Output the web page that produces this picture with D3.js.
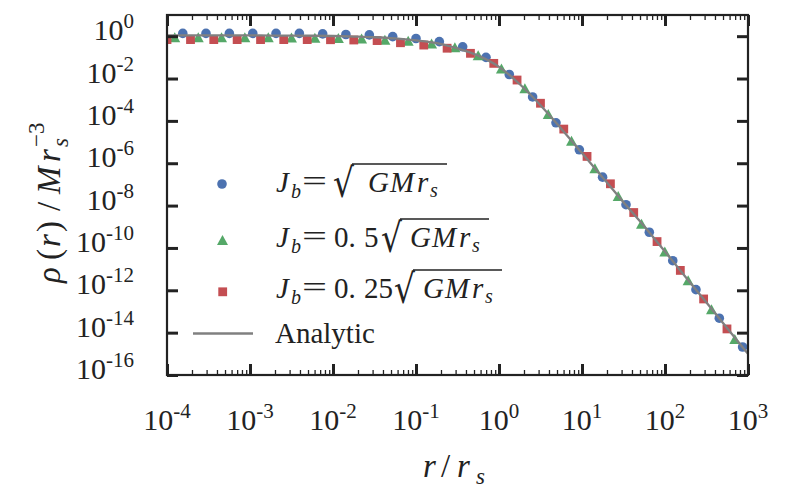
<!DOCTYPE html>
<html lang="en">
<head>
<meta charset="UTF-8">
<title>Density profile</title>
</head>
<body style="margin:0; background:#fff">
<svg id="chart" width="789" height="502"></svg>
<script src="https://cdnjs.cloudflare.com/ajax/libs/d3/7.8.5/d3.min.js"></script>
<script>
// tick exponents
var xTickExps = [-4, -3, -2, -1, 0, 1, 2, 3];
var yTickExps = [0, -2, -4, -6, -8, -10, -12, -14, -16];

// J_b = sqrt(GMr_s)  (circles)
var circleR = [1.55e-4, 2.95e-4, 5.64e-4, 1.08e-3, 2.06e-3, 3.93e-3, 7.51e-3, 1.43e-2, 2.74e-2, 5.24e-2,
               0.100, 0.191, 0.365, 0.697, 1.33, 2.54, 4.86, 9.29, 17.7, 33.9, 64.7, 124, 236, 451, 861];
var circleRho = [1.35, 1.35, 1.35, 1.35, 1.35, 1.35, 1.28, 1.2, 1.15, 0.955,
                 0.776, 0.55, 0.316, 0.1, 1.55e-2, 1.35e-3, 8.1e-5, 4.3e-6, 2.2e-7, 1.1e-8,
                 5.5e-10, 2.5e-11, 1.07e-12, 4.8e-14, 2.1e-15];

// J_b = 0.5 sqrt(GMr_s)  (triangles)
var triR = [1.24e-4, 2.38e-4, 4.54e-4, 8.67e-4, 1.66e-3, 3.16e-3, 6.05e-3, 1.16e-2, 2.21e-2, 4.22e-2,
            8.05e-2, 0.154, 0.294, 0.561, 1.07, 2.05, 3.92, 7.48, 14.3, 27.3, 52.1, 99.5, 190, 363, 693];
var triRho = [0.89, 0.89, 0.89, 0.89, 0.89, 0.87, 0.85, 0.83, 0.78, 0.68,
              0.60, 0.447, 0.30, 0.126, 3.0e-2, 3.5e-3, 2.1e-4, 1.15e-5, 5.8e-7, 2.8e-8,
              1.4e-9, 6.8e-11, 3.0e-12, 1.26e-13, 5.0e-15];

// J_b = 0.25 sqrt(GMr_s)  (squares)
var sqR = [1.0e-4, 1.92e-4, 3.66e-4, 7.0e-4, 1.34e-3, 2.55e-3, 4.89e-3, 9.33e-3, 1.78e-2, 3.4e-2,
           6.5e-2, 0.124, 0.237, 0.453, 0.865, 1.65, 3.16, 6.03, 11.5, 22.0, 42.0, 80.2, 153, 292, 558];
var sqRho = [0.69, 0.69, 0.69, 0.69, 0.69, 0.69, 0.69, 0.68, 0.66, 0.62,
             0.49, 0.38, 0.27, 0.155, 5.2e-2, 8.5e-3, 6.8e-4, 4.1e-5, 2.1e-6, 1.07e-7,
             4.7e-9, 2.0e-10, 8.7e-12, 3.9e-13, 1.5e-14];

// analytic curve
var anaR = [1e-4, 1.78e-4, 3.16e-4, 5.62e-4, 1e-3, 1.78e-3, 3.16e-3, 5.62e-3, 1e-2, 1.78e-2,
            3.16e-2, 5.62e-2, 0.1, 0.178, 0.316, 0.562, 1, 1.78, 3.16, 5.62,
            10, 17.8, 31.6, 56.2, 100, 178, 316, 562, 1000];
var anaRho = [1.1, 1.1, 1.1, 1.1, 1.1, 1.07, 1.07, 1.05, 1.02, 0.96,
              0.89, 0.78, 0.63, 0.468, 0.263, 0.120, 3.55e-2, 5.37e-3, 5.5e-4, 4.27e-5,
              3.02e-6, 2.09e-7, 1.45e-8, 1.07e-9, 6.76e-11, 4.17e-12, 2.63e-13, 1.62e-14, 1.0e-15];

var blue = "#4C72B0", green = "#55A868", red = "#C44E52", gray = "#808080", ink = "#222";

var mLeft = 167, mRight = 748, mTop = 15, mBottom = 375;

var svg = d3.select("#chart");

var xScale = d3.scaleLog().domain([1e-4, 1e3]).range([mLeft, mRight]);
var yScale = d3.scaleLog().domain([1e-16, 1e1]).range([mBottom, mTop]);

// text helper
function txt(parent, size, fam) {
  var f = fam || "Liberation Serif";
  return parent.append("text")
    .attr("font-family", f)
    .style("font-family", "'" + f + "'")
    .style("font-size", size + "px")
    .attr("fill", ink);
}
function sub(t, str, size, italic) {
  var s = t.append("tspan").attr("font-family", "Liberation Serif")
    .style("font-family", "'Liberation Serif'").text(str);
  if (size) s.style("font-size", size + "px");
  if (italic) s.style("font-style", "italic");
  return s;
}

svg.append("defs").append("clipPath").attr("id", "plotclip")
  .append("rect")
  .attr("x", mLeft).attr("y", mTop)
  .attr("width", mRight - mLeft).attr("height", mBottom - mTop);

var plot = svg.append("g").attr("clip-path", "url(#plotclip)");

function zip(xs, ys) {
  return xs.map(function(x, i) { return { r: x, rho: ys[i] }; });
}

function triPath(cx, cy) {
  var s = 11, hh = 10;
  return "M" + cx + "," + (cy - hh / 2) + "L" + (cx - s / 2) + "," + (cy + hh / 2) +
         "L" + (cx + s / 2) + "," + (cy + hh / 2) + "Z";
}

// markers
plot.selectAll("circle.c1")
  .data(zip(circleR, circleRho))
  .enter().append("circle")
  .attr("class", "c1")
  .attr("cx", function(d) { return xScale(d.r); })
  .attr("cy", function(d) { return yScale(d.rho); })
  .attr("r", 4.8)
  .attr("fill", blue);

plot.selectAll("path.t1")
  .data(zip(triR, triRho))
  .enter().append("path")
  .attr("class", "t1")
  .attr("d", function(d) { return triPath(xScale(d.r), yScale(d.rho)); })
  .attr("fill", green);

plot.selectAll("rect.s1")
  .data(zip(sqR, sqRho))
  .enter().append("rect")
  .attr("class", "s1")
  .attr("x", function(d) { return xScale(d.r) - 4.4; })
  .attr("y", function(d) { return yScale(d.rho) - 4.4; })
  .attr("width", 8.8).attr("height", 8.8)
  .attr("fill", red);

// analytic line on top
var line = d3.line()
  .x(function(d) { return xScale(d.r); })
  .y(function(d) { return yScale(d.rho); })
  .curve(d3.curveMonotoneX);

plot.append("path")
  .datum(zip(anaR, anaRho))
  .attr("d", line)
  .attr("fill", "none")
  .attr("stroke", gray)
  .attr("stroke-width", 2.3);

// ticks
var xMajor = xTickExps.map(function(e) { return Math.pow(10, e); });
var xMinor = [];
for (var e = -4; e < 3; e++) {
  for (var m = 2; m < 10; m++) xMinor.push(m * Math.pow(10, e));
}
var yMajor = yTickExps.map(function(e) { return Math.pow(10, e); });

function styleTicks(g, width) {
  g.select(".domain").remove();
  g.selectAll("line").attr("stroke", ink).attr("stroke-width", width);
  g.selectAll("text").remove();
}

svg.append("g").attr("transform", "translate(0," + mBottom + ")")
  .call(d3.axisBottom(xScale).tickValues(xMinor).tickSize(-5).tickFormat(""))
  .call(styleTicks, 1.3);
svg.append("g").attr("transform", "translate(0," + mTop + ")")
  .call(d3.axisTop(xScale).tickValues(xMinor).tickSize(-5).tickFormat(""))
  .call(styleTicks, 1.3);
svg.append("g").attr("transform", "translate(0," + mBottom + ")")
  .call(d3.axisBottom(xScale).tickValues(xMajor).tickSize(-11).tickFormat(""))
  .call(styleTicks, 3);
svg.append("g").attr("transform", "translate(0," + mTop + ")")
  .call(d3.axisTop(xScale).tickValues(xMajor).tickSize(-11).tickFormat(""))
  .call(styleTicks, 3);
svg.append("g").attr("transform", "translate(" + mLeft + ",0)")
  .call(d3.axisLeft(yScale).tickValues(yMajor).tickSize(-11).tickFormat(""))
  .call(styleTicks, 3);
svg.append("g").attr("transform", "translate(" + mRight + ",0)")
  .call(d3.axisRight(yScale).tickValues(yMajor).tickSize(-11).tickFormat(""))
  .call(styleTicks, 3);

// frame
svg.append("rect")
  .attr("x", mLeft).attr("y", mTop)
  .attr("width", mRight - mLeft).attr("height", mBottom - mTop)
  .attr("fill", "none").attr("stroke", ink).attr("stroke-width", 2.2);

// tick labels
xTickExps.forEach(function(e) {
  var t = txt(svg, 30)
    .attr("x", xScale(Math.pow(10, e)))
    .attr("y", 430)
    .attr("text-anchor", "middle");
  sub(t, "10");
  sub(t, String(e), 21).attr("dy", -12);
});

yTickExps.forEach(function(e) {
  var t = txt(svg, 30)
    .attr("x", 134)
    .attr("y", yScale(Math.pow(10, e)) + 4)
    .attr("text-anchor", "end");
  sub(t, "10");
  sub(t, String(e), 21).attr("dy", -12);
});

// x axis label  r/r_s
var xl = txt(svg, 33).attr("y", 477);
sub(xl, "r", 0, true).attr("x", 423);
sub(xl, "/").attr("x", 441);
sub(xl, "r", 0, true).attr("x", 457);
sub(xl, "s", 23, true).attr("x", 476).attr("dy", 7);

// y axis label  rho(r)/Mr_s^-3
var yl = txt(svg.append("g").attr("transform", "translate(60,183) rotate(-90)"), 33).attr("y", 0);
sub(yl, "ρ", 0, true).attr("x", -100);
sub(yl, "(").attr("x", -77);
sub(yl, "r", 0, true).attr("x", -64);
sub(yl, ")").attr("x", -49);
sub(yl, "/").attr("x", -28);
sub(yl, "M", 0, true).attr("x", -11);
sub(yl, "r", 0, true).attr("x", 21);
sub(yl, "s", 23, true).attr("x", 36).attr("dy", 8);
sub(yl, "−3", 23).attr("x", 36).attr("dy", -24);

// legend
var legend = svg.append("g");
legend.append("circle").attr("cx", 222).attr("cy", 184).attr("r", 4.8).attr("fill", blue);
legend.append("path").attr("d", triPath(222.5, 240)).attr("fill", green);
legend.append("rect").attr("x", 218.3).attr("y", 287.4).attr("width", 8.8).attr("height", 8.8).attr("fill", red);
legend.append("line").attr("x1", 193).attr("x2", 253).attr("y1", 333.5).attr("y2", 333.5)
  .attr("stroke", gray).attr("stroke-width", 2.3);

var legendRows = [
  { y: 192, coef: "", rad: 333, g: 368 },
  { y: 247, coef: "5", rad: 381, g: 410 },
  { y: 298, coef: "25", rad: 394, g: 423 }
];

legendRows.forEach(function(row) {
  var t = txt(legend, 29).attr("y", row.y);
  sub(t, "J", 0, true).attr("x", 276);
  sub(t, "b", 20, true).attr("x", 291).attr("dy", 6);
  txt(legend, 30).attr("x", 302).attr("y", row.y - 1)
    .attr("textLength", 25).attr("lengthAdjust", "spacingAndGlyphs")
    .text("=");
  if (row.coef) {
    var c = txt(legend, 29).attr("y", row.y);
    sub(c, "0.").attr("x", 334);
    sub(c, row.coef).attr("x", 364);
  }
  txt(legend, 40, "DejaVu Serif").attr("x", row.rad).attr("y", row.y + 5)
    .attr("textLength", 21).attr("lengthAdjust", "spacingAndGlyphs")
    .text("√");
  legend.append("line")
    .attr("x1", row.rad + 19).attr("x2", row.g + 79)
    .attr("y1", row.y - 28).attr("y2", row.y - 28)
    .attr("stroke", ink).attr("stroke-width", 1.5);
  var gm = txt(legend, 29).attr("y", row.y);
  sub(gm, "G", 0, true).attr("x", row.g);
  sub(gm, "M", 0, true).attr("x", row.g + 22);
  sub(gm, "r", 0, true).attr("x", row.g + 49);
  sub(gm, "s", 20, true).attr("x", row.g + 62).attr("dy", 5);
});

txt(legend, 29).attr("x", 275).attr("y", 343).text("Analytic");
</script>
</body>
</html>
